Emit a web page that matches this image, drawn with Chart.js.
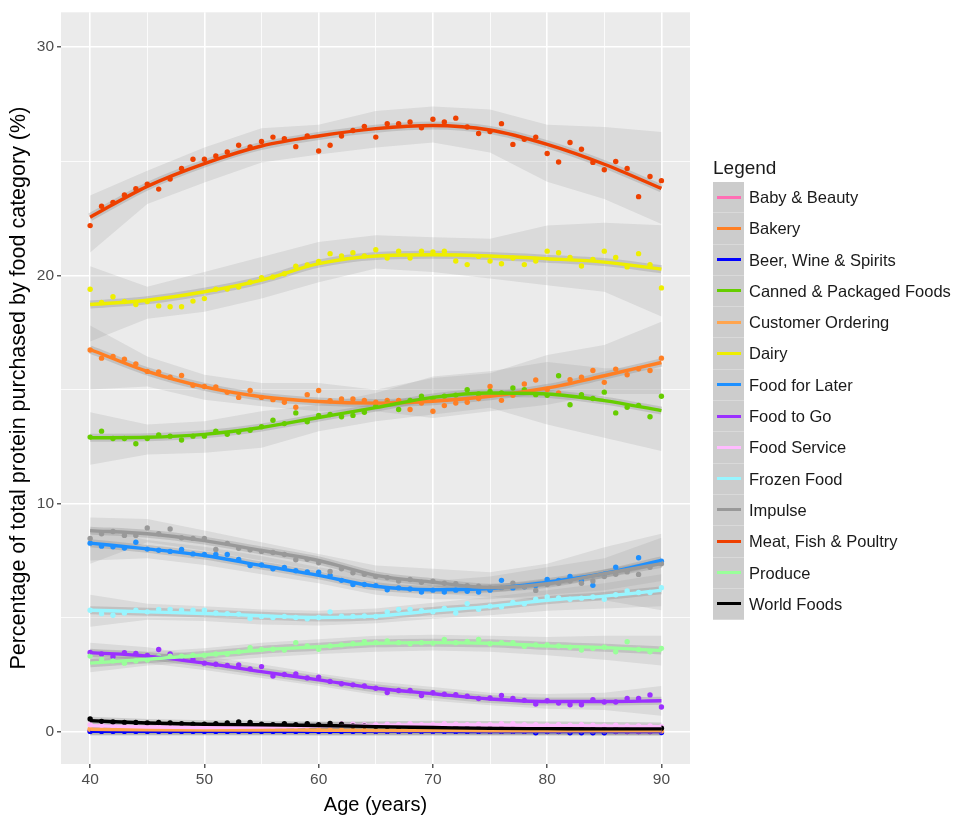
<!DOCTYPE html>
<html>
<head>
<meta charset="utf-8">
<script src="https://cdn.jsdelivr.net/npm/chart.js@4.4.1/dist/chart.umd.min.js"></script>
<style>
  html, body { margin:0; padding:0; background:#ffffff; }
  #wrap { position:relative; width:957px; height:818px; font-family:"Liberation Sans", Arial, sans-serif; }
  #c { position:absolute; left:0; top:0; }
  #legend { position:absolute; left:713px; top:155px; color:#1a1a1a; }
  #legend .title { font-size:19px; height:27px; line-height:26px; }
  #legend .row { position:relative; height:31.3px; }
  #legend .key { position:absolute; left:0; top:0; width:31px; height:30.3px; background:#cccccc; border-bottom:1px solid #d9d9d9; }
  #legend .key span { position:absolute; left:4px; top:13.5px; width:24px; height:3px; }
  #legend .lab { position:absolute; left:36px; top:0; line-height:31px; font-size:16.5px; white-space:nowrap; }
</style>
</head>
<body>
<div id="wrap">
  <canvas id="c" width="957" height="818"></canvas>
  <div id="legend"></div>
</div>
<script>
// ---- data ----
const ages = [40,41,42,43,44,45,46,47,48,49,50,51,52,53,54,55,56,57,58,59,60,61,62,63,64,65,66,67,68,69,70,71,72,73,74,75,76,77,78,79,80,81,82,83,84,85,86,87,88,89,90];
const fitAges = [40,45,50,55,60,65,70,75,80,85,90];
const xTicks = [40,45,50,55,60,65,70,75,80,85,90];
const yTicks = [0,5,10,15,20,25,30];

const categories = ["Baby & Beauty","Bakery","Beer, Wine & Spirits","Canned & Packaged Foods","Customer Ordering","Dairy","Food for Later","Food to Go","Food Service","Frozen Food","Impulse","Meat, Fish & Poultry","Produce","World Foods"];

const babyPts = [0.03,0.03,0.03,0.03,0.03,0.03,0.03,0.03,0.03,0.03,0.03,0.03,0.03,0.03,0.03,0.03,0.03,0.03,0.03,0.03,0.02,0.02,0.02,0.02,0.02,0.02,0.02,0.02,0.02,0.02,0.02,0.02,0.02,0.02,0.02,0.02,0.02,0.02,0.02,0.02,0.02,0.01,0.01,0.01,0.01,0.01,0.0,0.0,0.0,0.0,0.0];
const babyFit = [0.03,0.03,0.03,0.03,0.02,0.02,0.02,0.02,0.02,0.01,0.0];

const bakeryPts = [16.73,16.37,16.44,16.32,16.12,15.79,15.77,15.53,15.61,15.18,15.13,15.11,14.87,14.65,14.95,14.65,14.55,14.44,14.22,14.77,14.95,14.5,14.58,14.58,14.52,14.44,14.52,14.52,14.12,14.4,14.04,14.29,14.4,14.44,14.6,15.13,14.52,14.74,15.24,15.41,15.0,14.84,15.42,15.53,15.83,15.31,15.89,15.64,15.9,15.83,16.37];
const bakeryFit = [16.75,15.79,15.11,14.68,14.47,14.4,14.48,14.7,15.06,15.6,16.18];
const bakeryLo = [15.0,15.13,14.55,14.26,14.04,14.04,13.75,14.04,14.33,14.8,14.8];
const bakeryHi = [17.8,16.44,15.64,15.28,15.28,14.99,15.5,15.71,16.51,16.95,17.97];

const beerPts = [0.01,0.01,0.01,0.01,0.01,0.01,0.01,0.01,0.01,0.01,0.01,0.01,0.01,0.01,0.01,0.01,0.01,0.01,0.01,0.01,0.01,0.01,0.01,0.01,0.01,0.01,0.01,0.01,0.01,0.01,0.01,0.01,0.01,0.01,0.01,0.01,0.01,0.01,0.01,-0.05,0.0,0.0,-0.05,-0.05,-0.05,-0.05,0.0,0.0,0.0,0.0,-0.04];
const beerFit = [0.01,0.01,0.01,0.01,0.01,0.01,0.01,0.0,0.0,0.0,0.0];

const cannedPts = [12.91,13.17,12.85,12.85,12.62,12.85,13.0,12.95,12.78,12.95,12.95,13.17,13.03,13.13,13.21,13.36,13.65,13.5,13.97,13.58,13.86,13.9,13.8,13.86,14.0,14.26,14.4,14.12,14.52,14.7,14.6,14.7,14.75,14.99,14.8,14.91,14.85,15.06,14.99,14.77,14.74,15.6,14.33,14.77,14.6,14.88,13.97,14.22,14.3,13.8,14.7];
const cannedFit = [12.88,12.9,13.03,13.33,13.77,14.2,14.65,14.84,14.8,14.51,14.07];
const cannedLo = [11.7,12.15,12.22,12.44,13.17,13.6,13.9,14.2,13.46,12.88,12.3];
const cannedHi = [14.0,13.46,13.6,14.04,14.33,14.84,15.57,15.8,16.2,15.93,15.9];

const custPts = [0.1,0.09,0.09,0.09,0.08,0.08,0.08,0.08,0.08,0.08,0.07,0.07,0.07,0.07,0.07,0.07,0.07,0.07,0.06,0.06,0.06,0.06,0.06,0.06,0.06,0.05,0.05,0.05,0.05,0.05,0.05,0.05,0.05,0.05,0.05,0.04,0.04,0.04,0.04,0.04,0.04,0.04,0.04,0.04,0.03,0.03,0.03,0.03,0.03,0.03,0.03];
const custFit = [0.1,0.08,0.07,0.07,0.06,0.05,0.05,0.04,0.04,0.03,0.03];

const dairyPts = [19.39,18.81,19.06,18.85,18.72,18.85,18.66,18.62,18.62,18.87,18.98,19.39,19.4,19.49,19.7,19.9,19.93,20.07,20.4,20.45,20.61,20.95,20.85,20.99,20.85,21.12,20.76,21.06,20.76,21.06,21.02,21.06,20.63,20.47,20.83,20.63,20.51,20.76,20.47,20.63,21.06,20.99,20.78,20.41,20.7,21.06,20.78,20.37,20.95,20.47,19.45];
const dairyFit = [18.72,18.91,19.28,19.79,20.51,20.85,20.9,20.85,20.73,20.58,20.27];
const dairyLo = [17.1,18.1,18.4,18.98,19.7,20.3,20.15,19.86,19.57,19.28,18.2];
const dairyHi = [20.4,19.5,20.15,20.8,21.46,21.76,21.67,21.6,22.18,22.3,22.2];

const laterPts = [8.26,8.13,8.1,8.05,8.3,8.0,7.95,7.9,7.98,7.79,7.76,7.76,7.76,7.55,7.28,7.3,7.14,7.2,7.05,7.0,6.99,6.85,6.63,6.45,6.45,6.4,6.22,6.3,6.25,6.12,6.2,6.12,6.2,6.15,6.12,6.2,6.63,6.3,6.35,6.4,6.67,6.63,6.8,6.6,6.41,6.9,7.21,7.1,7.62,7.3,7.47];
const laterFit = [8.26,8.01,7.72,7.28,6.85,6.37,6.22,6.27,6.55,6.93,7.5];
const laterLo = [7.5,7.6,7.3,6.9,6.5,6.0,5.8,5.8,6.0,6.2,6.6];
const laterHi = [8.9,8.4,8.1,7.7,7.2,6.8,6.6,6.8,7.2,7.6,8.5];

const goPts = [3.47,3.4,3.28,3.46,3.43,3.34,3.6,3.4,3.2,3.15,3.0,2.95,2.9,2.92,2.75,2.85,2.44,2.5,2.53,2.35,2.39,2.2,2.1,2.05,2.0,1.9,1.71,1.8,1.8,1.58,1.7,1.64,1.62,1.55,1.45,1.47,1.58,1.45,1.37,1.21,1.35,1.25,1.18,1.18,1.4,1.3,1.3,1.45,1.45,1.61,1.08];
const goFit = [3.46,3.31,3.0,2.63,2.27,1.9,1.66,1.43,1.32,1.32,1.35];
const goLo = [3.0,3.0,2.7,2.35,2.0,1.6,1.35,1.15,1.0,0.95,0.7];
const goHi = [3.9,3.7,3.3,2.95,2.55,2.2,1.95,1.7,1.65,1.7,2.0];

const servicePts = [0.3,0.28,0.25,0.22,0.2,0.2,0.2,0.22,0.2,0.18,0.18,0.2,0.2,0.2,0.22,0.22,0.22,0.25,0.25,0.25,0.28,0.3,0.35,0.32,0.3,0.3,0.32,0.3,0.35,0.3,0.3,0.35,0.32,0.3,0.32,0.3,0.35,0.35,0.3,0.3,0.28,0.3,0.28,0.3,0.28,0.25,0.28,0.25,0.25,0.25,0.22];
const serviceFit = [0.26,0.2,0.18,0.2,0.24,0.28,0.3,0.29,0.27,0.25,0.22];

const frozenPts = [5.32,5.17,5.1,5.2,5.32,5.25,5.36,5.36,5.32,5.32,5.32,5.2,5.17,5.15,4.96,5.05,5.0,5.05,5.0,4.95,5.0,5.25,5.06,5.05,5.07,5.05,5.25,5.36,5.36,5.3,5.25,5.4,5.2,5.61,5.36,5.5,5.47,5.66,5.6,5.8,5.9,5.86,5.8,5.85,5.9,5.8,6.0,6.16,6.1,6.1,6.31];
const frozenFit = [5.32,5.25,5.18,5.08,5.0,5.06,5.29,5.49,5.76,5.94,6.19];
const frozenLo = [4.6,4.9,4.85,4.7,4.65,4.75,4.95,5.1,5.3,5.4,5.5];
const frozenHi = [6.0,5.6,5.5,5.35,5.3,5.4,5.65,5.9,6.2,6.5,6.9];

const impulsePts = [8.47,8.67,8.77,8.6,8.6,8.93,8.67,8.88,8.5,8.47,8.47,7.98,8.25,8.04,7.97,7.9,7.85,7.76,7.53,7.55,7.4,7.02,7.14,6.96,6.9,6.8,6.75,6.6,6.67,6.55,6.59,6.5,6.48,6.4,6.37,6.3,6.3,6.51,6.35,6.19,6.45,6.5,6.6,6.5,6.6,6.8,6.9,7.0,6.89,7.2,7.36];
const impulseFit = [8.81,8.67,8.37,7.94,7.5,6.85,6.55,6.31,6.48,6.92,7.36];
const impulseLo = [7.36,8.3,7.94,7.5,7.06,6.48,6.05,5.9,5.76,5.76,5.32];
const impulseHi = [9.39,9.32,8.81,8.3,7.79,7.28,7.14,6.99,7.36,8.08,8.67];

const meatPts = [22.18,23.03,23.2,23.52,23.8,24.0,23.78,24.22,24.68,25.09,25.09,25.23,25.41,25.7,25.63,25.87,26.06,25.99,25.64,26.11,25.45,25.7,26.11,26.35,26.53,26.06,26.65,26.65,26.72,26.47,26.84,26.72,26.89,26.5,26.22,26.3,26.65,25.74,25.96,26.06,25.34,24.97,25.82,25.53,24.95,24.63,24.99,24.68,23.45,24.33,24.15];
const meatFit = [22.55,23.9,24.9,25.67,26.11,26.43,26.57,26.37,25.74,24.87,23.81];
const meatLo = [21.0,23.13,24.07,24.95,25.3,25.6,25.82,25.38,24.1,23.35,22.25];
const meatHi = [23.5,24.58,25.6,26.45,26.6,27.2,27.4,27.27,26.6,26.5,26.28];

const producePts = [3.31,3.17,3.1,3.0,3.1,3.14,3.28,3.3,3.3,3.35,3.35,3.4,3.4,3.5,3.68,3.6,3.61,3.58,3.9,3.75,3.61,3.75,3.8,3.85,3.94,3.9,3.97,3.9,3.85,3.9,3.88,4.04,3.9,3.95,4.04,3.85,3.9,3.9,3.74,3.8,3.8,3.75,3.7,3.58,3.65,3.7,3.5,3.94,3.6,3.5,3.65];
const produceFit = [3.0,3.17,3.36,3.58,3.72,3.87,3.9,3.87,3.76,3.68,3.55];
const produceLo = [2.6,2.9,3.05,3.25,3.4,3.5,3.55,3.5,3.35,3.15,2.9];
const produceHi = [3.6,3.5,3.65,3.9,4.05,4.2,4.25,4.2,4.15,4.2,4.2];

const worldPts = [0.55,0.45,0.42,0.4,0.4,0.38,0.4,0.38,0.35,0.33,0.33,0.35,0.38,0.42,0.4,0.33,0.3,0.35,0.3,0.35,0.3,0.36,0.33,0.25,0.25,0.22,0.22,0.2,0.2,0.2,0.2,0.2,0.2,0.15,0.15,0.15,0.15,0.14,0.15,0.14,0.13,0.14,0.13,0.13,0.12,0.12,0.13,0.12,0.12,0.12,0.15];
const worldFit = [0.48,0.38,0.32,0.3,0.27,0.22,0.18,0.14,0.13,0.12,0.12];

const colors = ["#FF6EB4","#FF7F24","#0000FF","#66CD00","#FFA54F","#EEEE00","#1E90FF","#9B30FF","#FFBBFF","#98F5FF","#999999","#EE4000","#9AFF9A","#000000"];

// ---- build ----
const seriesList = [
  [babyPts, babyFit, null, null],
  [bakeryPts, bakeryFit, bakeryLo, bakeryHi],
  [beerPts, beerFit, null, null],
  [cannedPts, cannedFit, cannedLo, cannedHi],
  [custPts, custFit, null, null],
  [dairyPts, dairyFit, dairyLo, dairyHi],
  [laterPts, laterFit, laterLo, laterHi],
  [goPts, goFit, goLo, goHi],
  [servicePts, serviceFit, null, null],
  [frozenPts, frozenFit, frozenLo, frozenHi],
  [impulsePts, impulseFit, impulseLo, impulseHi],
  [meatPts, meatFit, meatLo, meatHi],
  [producePts, produceFit, produceLo, produceHi],
  [worldPts, worldFit, null, null]
];

const xy = (xs, ys) => xs.map((x, k) => ({x: x, y: ys[k]}));
const datasets = [];
seriesList.forEach((s, i) => {
  const [pts, fit, lo, hi] = s;
  const col = colors[i];
  if (lo && hi) {
    datasets.push({ label: categories[i] + ' lo', data: xy(fitAges, lo), borderWidth: 0, pointRadius: 0, fill: false, tension: 0, order: 1000 });
    datasets.push({ label: categories[i] + ' hi', data: xy(fitAges, hi), borderWidth: 0, pointRadius: 0, fill: '-1', tension: 0,
      backgroundColor: 'rgba(150,150,150,0.2)', order: 1000 });
  }
  datasets.push({ label: categories[i] + ' se', data: xy(fitAges, fit), borderColor: 'rgba(130,130,130,0.28)', borderWidth: 8,
    pointRadius: 0, fill: false, cubicInterpolationMode: 'monotone', order: 500 });
  datasets.push({ label: categories[i] + ' pts', data: xy(ages, pts), showLine: false, pointRadius: 2.7, pointHoverRadius: 2.7,
    pointBackgroundColor: col, pointBorderWidth: 0, borderColor: col, order: 300 - i });
  datasets.push({ label: categories[i], data: xy(fitAges, fit), borderColor: col, borderWidth: 3.4, pointRadius: 0,
    fill: false, cubicInterpolationMode: 'monotone', order: 100 - i });
});

const panelBg = {
  id: 'panelBg',
  beforeDraw(chart) {
    const a = chart.chartArea, ctx = chart.ctx;
    ctx.save();
    ctx.fillStyle = '#EBEBEB';
    ctx.fillRect(a.left, a.top, a.right - a.left, a.bottom - a.top);
    ctx.restore();
  }
};

const gridOpts = {
  color: '#FFFFFF',
  lineWidth: c => (c.tick && c.tick.value % 10 === 0) ? 1.6 : 0.8,
  drawTicks: true,
  tickLength: 4,
  tickWidth: 1.2,
  tickColor: c => (c.tick && c.tick.value % 10 === 0) ? '#333333' : 'rgba(0,0,0,0)'
};

new Chart(document.getElementById('c'), {
  type: 'line',
  data: { datasets: datasets },
  options: {
    responsive: false,
    animation: false,
    devicePixelRatio: 1,
    events: [],
    layout: { padding: { top: 9, right: 267, left: 0, bottom: 0 } },
    plugins: { legend: { display: false }, tooltip: { enabled: false }, title: { display: false } },
    scales: {
      x: {
        type: 'linear', min: 37.45, max: 92.5,
        afterBuildTicks: sc => { sc.ticks = xTicks.map(v => ({value: v})); },
        afterFit: sc => { sc.height = 54; },
        grid: gridOpts,
        border: { display: false },
        ticks: { color: '#4D4D4D', font: { family: 'Liberation Sans', size: 15.5 }, padding: 2, maxRotation: 0,
          callback: v => (v % 10 === 0 ? String(v) : '') },
        title: { display: true, text: 'Age (years)', color: '#000000', font: { family: 'Liberation Sans', size: 20 }, padding: { top: 0, bottom: 1 } }
      },
      y: {
        type: 'linear', min: -1.42, max: 31.53,
        afterBuildTicks: sc => { sc.ticks = yTicks.map(v => ({value: v})); },
        afterFit: sc => { sc.width = 61; },
        grid: gridOpts,
        border: { display: false },
        ticks: { color: '#4D4D4D', font: { family: 'Liberation Sans', size: 15.5 }, padding: 3,
          callback: v => (v % 10 === 0 ? String(v) : '') },
        title: { display: true, text: 'Percentage of total protein purchased by food category (%)', color: '#000000',
          font: { family: 'Liberation Sans', size: 21.5 }, padding: { top: 6, bottom: 0 } }
      }
    }
  },
  plugins: [panelBg]
});

// ---- legend (HTML text) ----
const lg = document.getElementById('legend');
let html = '<div class="title">Legend</div>';
categories.forEach((name, i) => {
  html += '<div class="row"><div class="key"><span style="background:' + colors[i] + '"></span></div><div class="lab">' +
    name.replace(/&/g, '&amp;') + '</div></div>';
});
lg.innerHTML = html;
</script>
</body>
</html>
